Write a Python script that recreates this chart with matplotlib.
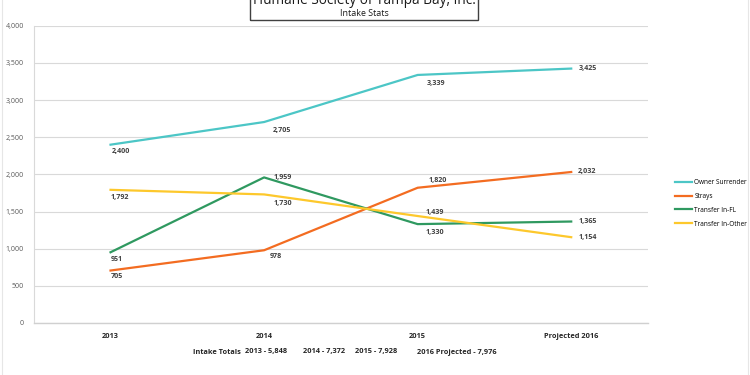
import matplotlib.pyplot as plt
from matplotlib.patches import Rectangle
import matplotlib

matplotlib.rcParams['font.family'] = ['Open Sans', 'DejaVu Sans']

years = ['2013', '2014', '2015', 'Projected 2016']
owner_surrender = [2400, 2705, 3339, 3425]
strays = [705, 978, 1820, 2032]
transfer_fl = [951, 1959, 1330, 1365]
transfer_other = [1792, 1730, 1439, 1154]
totals = ['2013 - 5,848', '2014 - 7,372', '2015 - 7,928', '2016 Projected - 7,976']

# label offsets in pixels (dx, dy), per series per point
off_owner = [(1, -7), (9, -8), (9, -9), (7, 0)]
off_strays = [(0, -6), (6, -6), (11, 7), (7, 0)]
off_fl = [(0, -7), (9, 0), (8, -8), (7, 0)]
off_other = [(0, -8), (9, -9), (8, 4), (7, 0)]

fig = plt.figure(figsize=(7.5, 3.75), dpi=100)
ax = fig.add_axes([0.045, 0.139, 0.819, 0.792])

x = range(len(years))
series = [
    ('Owner Surrender', owner_surrender, '#4cc6c6', off_owner),
    ('Strays', strays, '#f36c21', off_strays),
    ('Transfer In-FL', transfer_fl, '#2f9960', off_fl),
    ('Transfer In-Other', transfer_other, '#fdc82c', off_other),
]
for name, vals, col, offs in series:
    ax.plot(x, vals, color=col, lw=1.6, label=name)
    for i, v in enumerate(vals):
        dx, dy = offs[i]
        ax.annotate(f'{v:,}', (i, v), xytext=(dx * 0.72, dy * 0.72),
                    textcoords='offset points', ha='left', va='center',
                    fontsize=5.1, color='#404040', fontweight='bold')

ax.set_xlim(-0.5, 3.5)
ax.set_ylim(0, 4000)
ax.set_yticks(range(0, 4001, 500))
ax.set_yticklabels([f'{t:,}' for t in range(0, 4001, 500)], fontsize=5, color='#595959')
ax.set_xticks(list(x))
ax.set_xticklabels(years, fontsize=5.3, fontweight='bold', color='#262626')
ax.tick_params(axis='both', length=0, pad=7)
ax.grid(axis='y', color='#d9d9d9', lw=0.8)
ax.set_axisbelow(True)
for s in ['top', 'right']:
    ax.spines[s].set_visible(False)
ax.spines['left'].set_color('#d9d9d9')
ax.spines['bottom'].set_color('#d0d0d0')
ax.spines['bottom'].set_linewidth(1.0)

fig.legend(loc='center left', bbox_to_anchor=(0.892, 0.458), frameon=False,
           fontsize=4.7, handlelength=2.6, labelspacing=1.05, handletextpad=0.4)

# footer
fig.text(193 / 750, 1 - 352 / 375, 'Intake Totals', fontsize=5.3, fontweight='bold',
         color='#262626', ha='left', va='center')
for xp, t in zip([245, 303, 355, 417], totals):
    fig.text(xp / 750, 1 - 352 / 375, t, fontsize=5.3, fontweight='bold',
             color='#262626', ha='left', va='center')

# title box (top clipped)
fig.patches.append(Rectangle((250 / 750, 1 - 20 / 375), 228 / 750, 0.1,
                             transform=fig.transFigure, fill=False,
                             edgecolor='#404040', lw=1.0))
fig.text(364 / 750, 1 - 4 / 375, 'Humane Society of Tampa Bay, Inc.', fontsize=9.8,
         ha='center', va='baseline', color='#1a1a1a')
fig.text(364 / 750, 1 - 13 / 375, 'Intake Stats', fontsize=6.4,
         ha='center', va='center', color='#1a1a1a')

# faint outer frame
fig.patches.append(Rectangle((2 / 750, -0.01), 746 / 750, 1.02,
                             transform=fig.transFigure, fill=False,
                             edgecolor='#e6e6e6', lw=0.8))

fig.savefig('out.png', dpi=100)
